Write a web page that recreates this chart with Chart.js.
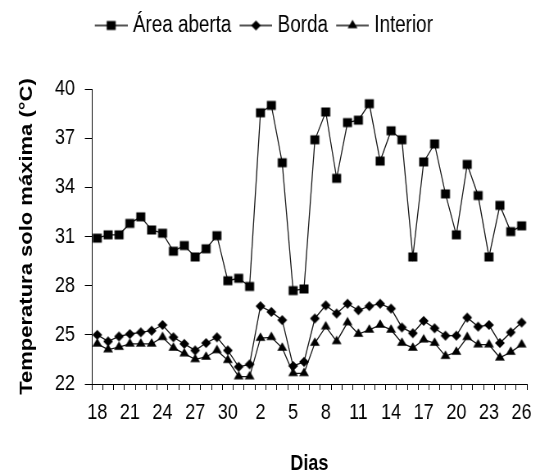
<!DOCTYPE html>
<html>
<head>
<meta charset="utf-8">
<script src="https://cdn.jsdelivr.net/npm/chart.js@4/dist/chart.umd.min.js"></script>
<style>
html,body{margin:0;padding:0;background:#fff;overflow:hidden;}
#wrap{width:540px;height:474px;overflow:hidden;position:relative;}
#c{width:659px;height:474px;transform:scaleX(0.81942);transform-origin:0 0;}
</style>
</head>
<body>
<div id="wrap"><canvas id="c" width="659" height="474"></canvas></div>
<script>
// ---- data ----
const days = ['18','19','20','21','22','23','24','25','26','27','28','29','30','31',
              '1','2','3','4','5','6','7','8','9','10','11','12','13','14','15','16',
              '17','18','19','20','21','22','23','24','25','26'];
const areaAberta = [30.9,31.1,31.1,31.8,32.2,31.4,31.2,30.1,30.45,29.75,30.25,31.05,28.3,28.45,27.95,
                    38.55,39.0,35.5,27.7,27.8,36.9,38.6,34.55,37.95,38.1,39.1,35.6,37.45,36.9,29.75,
                    35.55,36.65,33.6,31.1,35.4,33.5,29.75,32.9,31.3,31.65];
const borda = [25.0,24.6,24.9,25.05,25.15,25.25,25.6,24.85,24.45,24.05,24.5,24.85,24.05,23.05,23.2,
               26.75,26.4,25.9,23.1,23.35,26.0,26.8,26.3,26.9,26.5,26.75,26.9,26.6,25.45,25.1,
               25.85,25.4,24.95,24.95,26.05,25.5,25.6,24.5,25.15,25.75];
const interior = [24.45,24.1,24.25,24.45,24.45,24.45,24.85,24.2,23.85,23.5,23.65,24.05,23.45,22.45,22.45,
                  24.8,24.85,24.2,22.65,22.65,24.5,25.5,24.6,25.75,25.05,25.3,25.6,25.3,24.5,24.2,
                  24.7,24.5,23.7,23.95,24.85,24.4,24.4,23.6,23.95,24.4];
const seriesNames = ['Área aberta','Borda','Interior'];
const yMin = 22, yMax = 40, yStep = 3;
const xLabelEvery = 3;

// ---- styling ----
const FONT = "'Liberation Sans',Arial,sans-serif";
const INK = '#000';
const LINE = '#1a1a1a';

// marker shapes (drawn slightly wider, the canvas is shown condensed horizontally)
function markerPath(g, kind, cx, cy){
  g.beginPath();
  if (kind === 'square') { g.rect(cx - 5.5, cy - 4.5, 11, 9); }
  else if (kind === 'diamond') { g.moveTo(cx, cy - 5); g.lineTo(cx + 6, cy); g.lineTo(cx, cy + 5); g.lineTo(cx - 6, cy); g.closePath(); }
  else { g.moveTo(cx, cy - 5.7); g.lineTo(cx + 6, cy + 2.8); g.lineTo(cx - 6, cy + 2.8); g.closePath(); }
}
function makeMarker(kind){
  const c = document.createElement('canvas');
  c.width = 14; c.height = 14;
  const g = c.getContext('2d');
  g.fillStyle = INK; markerPath(g, kind, 7, 7); g.fill();
  return c;
}
function makeIcon(kind){
  const c = document.createElement('canvas');
  c.width = 45; c.height = 14;
  const g = c.getContext('2d');
  g.strokeStyle = LINE; g.lineWidth = 1.3;
  g.beginPath(); g.moveTo(5, 7); g.lineTo(45, 7); g.stroke();
  g.fillStyle = INK; markerPath(g, kind, 25, 7); g.fill();
  return c;
}
const kinds = ['square','diamond','triangle'];
const markers = kinds.map(makeMarker);
const icons = kinds.map(makeIcon);

const legendSpacer = {
  id: 'legendSpacer',
  beforeLayout(chart){
    const lg = chart.legend;
    if (lg && !lg._spaced) {
      const fit = lg.fit;
      lg.fit = function(){ fit.call(this); this.height += 42; };
      lg._spaced = true;
    }
  }
};

function ds(label, data, marker){
  return {
    label, data, pointStyle: marker, pointRadius: 5, pointHoverRadius: 5,
    pointBackgroundColor: INK, pointBorderColor: INK, pointBorderWidth: 0,
    borderColor: LINE, backgroundColor: INK, borderWidth: 1.3, tension: 0, fill: false
  };
}

new Chart(document.getElementById('c'), {
  type: 'line',
  data: {
    labels: days,
    datasets: [
      ds(seriesNames[0], areaAberta, markers[0]),
      ds(seriesNames[1], borda, markers[1]),
      ds(seriesNames[2], interior, markers[2])
    ]
  },
  plugins: [legendSpacer],
  options: {
    responsive: false,
    animation: false,
    events: [],
    layout: { padding: { top: 4, right: 15, bottom: 0, left: 0 } },
    plugins: {
      tooltip: { enabled: false },
      legend: {
        position: 'top',
        labels: {
          usePointStyle: true,
          pointStyleWidth: 35,
          padding: 10,
          color: INK,
          font: { family: FONT, size: 23 },
          generateLabels(chart){
            const items = Chart.defaults.plugins.legend.labels.generateLabels(chart);
            items.forEach((it, i) => { it.pointStyle = icons[i]; });
            return items;
          }
        }
      }
    },
    scales: {
      x: {
        type: 'category',
        offset: true,
        grid: { display: true, offset: true, drawOnChartArea: false, drawTicks: true, tickLength: 6, color: INK, lineWidth: 1 },
        border: { display: true, color: INK, width: 1 },
        ticks: {
          autoSkip: false, maxRotation: 0, minRotation: 0, padding: 10, color: INK,
          font: { family: FONT, size: 22 },
          callback: (v, i) => (i % xLabelEvery === 0 ? days[i] : '')
        },
        title: { display: true, text: 'Dias', color: INK,
                 font: { family: FONT, size: 22, weight: 'bold', lineHeight: 0.9 },
                 padding: { top: 0, bottom: 0 } },
        afterFit: s => { s.height = 90; }
      },
      y: {
        min: yMin, max: yMax,
        grid: { display: true, drawOnChartArea: false, drawTicks: true, tickLength: 8.5, color: INK, lineWidth: 1 },
        border: { display: true, color: INK, width: 1 },
        ticks: { stepSize: yStep, padding: 12, color: INK, font: { family: FONT, size: 22 } },
        title: { display: true, text: 'Temperatura solo máxima (°C)', color: INK,
                 font: { family: FONT, size: 22, weight: 'bold', lineHeight: 1.2 },
                 padding: { top: 20, bottom: 0 } },
        afterFit: s => { s.width = 112; }
      }
    }
  }
});
</script>
</body>
</html>
